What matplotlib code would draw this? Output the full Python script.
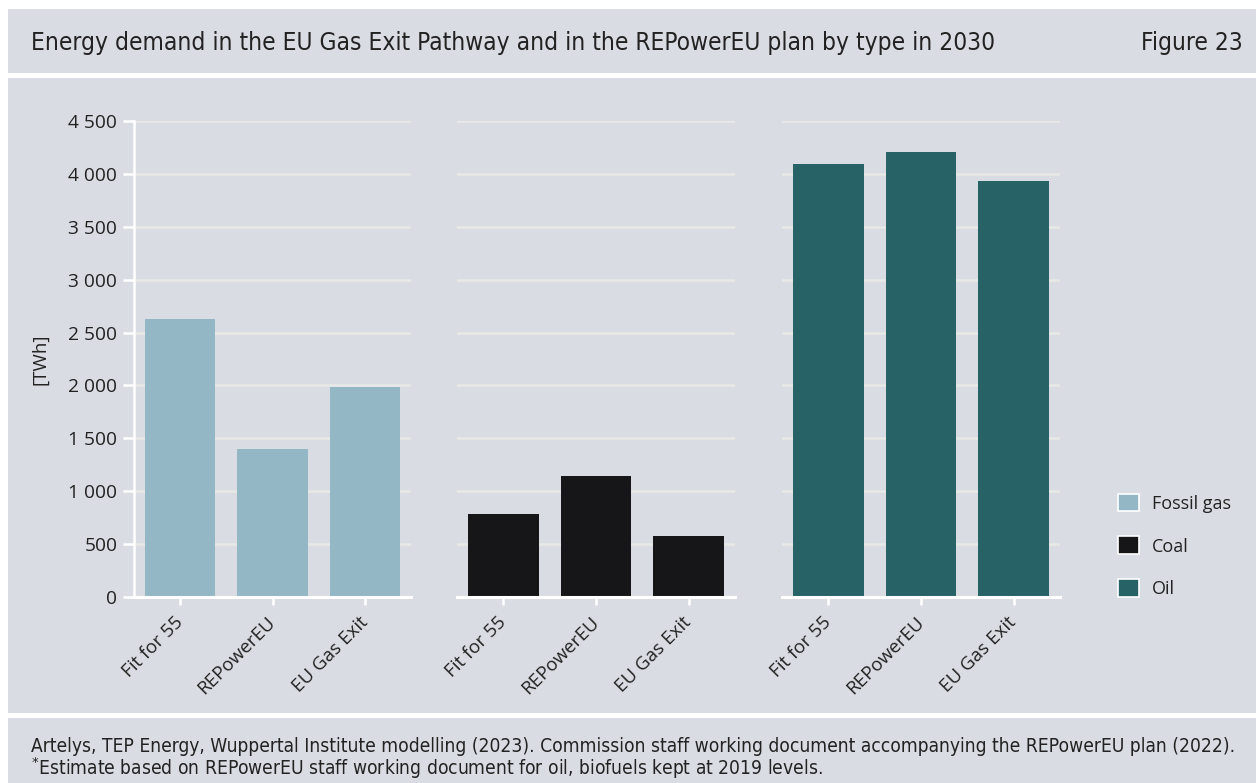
import matplotlib
matplotlib.use("Agg")
import matplotlib.pyplot as plt
from matplotlib.patches import Rectangle, Patch
from matplotlib.ticker import FuncFormatter

# data
scenarios = ["Fit for 55", "REPowerEU", "EU Gas Exit"]
fuel_types = ["Fossil gas", "Coal", "Oil"]
fossil_gas = [2625, 1400, 1985]
coal = [780, 1140, 575]
oil = [4090, 4205, 3930]
yticks = [0, 500, 1000, 1500, 2000, 2500, 3000, 3500, 4000, 4500]

colors = ["#94b7c6", "#161618", "#276266"]
bg = "#d9dce2"
grid_col = "#e8e9e6"
text_col = "#222222"

W, H = 1256, 783
plt.rcParams["font.family"] = ["Open Sans", "DejaVu Sans"]
narrow = ["DejaVu Sans"]

fig = plt.figure(figsize=(W / 100, H / 100), dpi=100, facecolor="white")


def box(x0, y0, x1, y1):
    # pixel box (top-left origin) -> figure fraction rect
    return [x0 / W, 1 - y1 / H, (x1 - x0) / W, (y1 - y0) / H]


# background bands
for (x0, y0, x1, y1) in [(8, 9, W, 73), (8, 78, W, 713), (8, 718, W, H)]:
    r = box(x0, y0, x1, y1)
    fig.patches.append(Rectangle((r[0], r[1]), r[2], r[3], transform=fig.transFigure,
                                 facecolor=bg, edgecolor="none", zorder=-10))

fig.text(31 / W, 1 - 50 / H, "Energy demand in the EU Gas Exit Pathway and in the REPowerEU plan by type in 2030",
         family=narrow, stretch="condensed", fontsize=17.6, color=text_col, va="baseline", ha="left")
fig.text(1243 / W, 1 - 50 / H, "Figure 23", family=narrow, stretch="condensed", fontsize=17.6,
         color=text_col, va="baseline", ha="right")

fig.text(31 / W, 1 - 746 / H,
         "Artelys, TEP Energy, Wuppertal Institute modelling (2023). Commission staff working document "
         "accompanying the REPowerEU plan (2022).",
         family=narrow, stretch="condensed", fontsize=13.8, color=text_col, va="center", ha="left")
fig.text(31 / W, 1 - 768 / H,
         r"$^{*}$Estimate based on REPowerEU staff working document for oil, biofuels kept at 2019 levels.",
         family=narrow, stretch="condensed", fontsize=13.8, color=text_col, va="center", ha="left")

fmt = FuncFormatter(lambda v, p: f"{int(v):,}".replace(",", " "))

series = [fossil_gas, coal, oil]
axes_px = [(134, 411), (457, 735), (782, 1060)]
for i, (vals, (x0, x1)) in enumerate(zip(series, axes_px)):
    ax = fig.add_axes(box(x0, 121, x1, 597))
    ax.set_facecolor("none")
    ax.bar(range(len(scenarios)), vals, width=0.76, color=colors[i], zorder=3)
    ax.set_xlim(-0.5, 2.5)
    ax.set_ylim(0, 4500)
    ax.set_yticks(yticks)
    ax.yaxis.set_major_formatter(fmt)
    ax.grid(axis="y", color=grid_col, linewidth=1.8, zorder=0)
    ax.set_axisbelow(True)
    for s in ["top", "right"]:
        ax.spines[s].set_visible(False)
    ax.spines["bottom"].set_color("white")
    ax.spines["bottom"].set_linewidth(2.2)
    ax.spines["bottom"].set_zorder(4)
    ax.set_xticks(range(len(scenarios)))
    ax.set_xticklabels(scenarios, rotation=45, ha="right", va="center", rotation_mode="anchor",
                       fontsize=13.5, color=text_col)
    ax.tick_params(axis="x", color="white", width=1.8, length=6, pad=10)
    if i == 0:
        ax.spines["left"].set_color("white")
        ax.spines["left"].set_linewidth(1.8)
        ax.tick_params(axis="y", color="white", width=1.8, length=8, pad=4,
                       labelsize=13.8, labelcolor=text_col)
    else:
        ax.spines["left"].set_visible(False)
        ax.tick_params(axis="y", left=False, labelleft=False)

fig.text(40 / W, 1 - 359 / H, "[TWh]", rotation=90, ha="center", va="center",
         fontsize=13.5, color=text_col)

handles = [Patch(facecolor=c, edgecolor="white", linewidth=1.2) for c in colors]
fig.legend(handles, fuel_types, loc="center left", bbox_to_anchor=(1109 / W, 1 - 546 / H),
           frameon=False, fontsize=13, handlelength=1.15, handleheight=1.15,
           handletextpad=0.75, labelspacing=1.32, labelcolor=text_col, borderpad=0)

fig.savefig("out.png", dpi=100, facecolor="white")
